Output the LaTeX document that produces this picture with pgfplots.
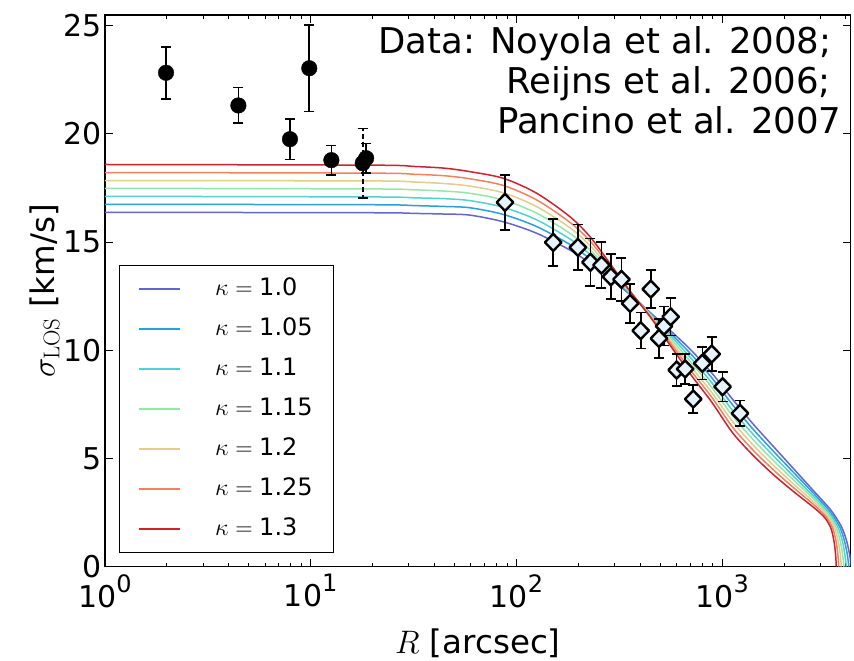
\RequirePackage{fix-cm}
\documentclass[border=0pt]{standalone}
\usepackage[no-math]{fontspec}
\setmainfont{DejaVu Sans}
\usepackage{pgfplots}
\usepackage{pgfplotstable}
\pgfplotsset{compat=1.18}
\definecolor{c0}{RGB}{100,100,210}
\definecolor{c1}{RGB}{40,160,220}
\definecolor{c2}{RGB}{80,210,210}
\definecolor{c3}{RGB}{150,230,170}
\definecolor{c4}{RGB}{225,205,140}
\definecolor{c5}{RGB}{240,130,95}
\definecolor{c6}{RGB}{205,35,45}
\definecolor{dfill}{RGB}{232,242,250}
\newcommand\tp[1]{10\raisebox{15pt}{\fontsize{24}{24}\selectfont #1}}
\pgfplotstableread{
x y e
1.98 22.83 1.20
4.45 21.32 0.82
7.93 19.76 0.93
9.84 23.04 2.00
12.6 18.79 0.68
18.6 18.88 0.68
}\noyoladata
\pgfplotstableread{
x y e
17.9 18.65 1.60
}\noyoladash
\pgfplotstableread{
x y e
88 16.84 1.27
151 14.99 1.09
199 14.76 1.06
229 14.07 1.10
259 13.94 1.06
288 13.40 1.04
324 13.28 1.00
357 12.17 0.91
402 10.91 0.83
450 12.83 0.87
493 10.55 0.90
522 11.12 0.90
562 11.55 0.87
601 9.09 0.73
661 9.14 0.70
724 7.75 0.65
801 9.40 0.75
890 9.83 0.79
1005 8.32 0.68
1222 7.09 0.59
}\outerdata
\begin{document}
\begin{tikzpicture}
\begin{axis}[
  scale only axis, width=745.7pt, height=551.7pt,
  xmode=log, xmin=1, xmax=4217, ymin=0, ymax=25.5,
  xtick={1,10,100,1000}, xticklabels={\tp{0},\tp{1},\tp{2},\tp{3}},
  minor xtick={2,3,4,5,6,7,8,9,20,30,40,50,60,70,80,90,200,300,400,500,600,700,800,900,2000,3000,4000},
  ytick={0,5,10,15,20,25},
  /pgf/number format/assume math mode=true,
  ticklabel style={font=\fontsize{30}{36}\selectfont},
  xticklabel style={yshift=-4pt},
  tick align=inside,
  major tick length=8pt, minor tick length=4pt,
  tick style={black, line width=1pt},
  axis line style={line width=1.2pt},
  xlabel={$R$ [arcsec]}, ylabel={$\sigma_{\mathrm{LOS}}$ [km/s]},
  label style={font=\fontsize{32.5}{38}\selectfont},
  xlabel style={yshift=-14.5pt},
  ylabel style={yshift=-3pt},
  legend cell align=left,
  legend style={at={(0,0)}, anchor=south west, xshift=14pt, yshift=13.7pt, draw=black, line width=1.2pt,
    font=\fontsize{24}{28}\selectfont, inner xsep=19pt, inner ysep=12.5pt, row sep=18pt,
    nodes={inner sep=0pt, text height=18pt, text depth=4pt, text width=99pt, align=left}},
  legend image code/.code={\draw[#1, line width=1.5pt] (0pt,0pt) -- (41pt,0pt); \path (75pt,0pt);},
]
\addplot[draw=c0, line width=1.5pt, smooth] coordinates {(1,16.38) (19.95,16.36) (31.62,16.33) (44.67,16.30) (59.43,16.25) (86.50,15.94) (125.6,15.41) (182.4,14.63) (228.0,14.02) (281.8,13.35) (354.8,12.60) (446.7,11.75) (562.3,10.90) (707.9,10.00) (891.3,8.95) (1122,7.75) (1413,6.60) (1778,5.55) (2239,4.50) (2818,3.45) (3388,2.60) (3802,1.85) (4027,1.20) (4169,0.55) (4246,0)};
\addlegendentry{$\kappa={}$1.0}
\addplot[draw=c1, line width=1.5pt, smooth] coordinates {(1,16.75) (19.95,16.73) (31.62,16.69) (44.67,16.65) (59.43,16.59) (86.50,16.28) (125.6,15.72) (182.4,14.89) (228.0,14.23) (281.8,13.47) (354.8,12.63) (446.7,11.72) (562.3,10.78) (707.9,9.81) (891.3,8.73) (1122,7.49) (1413,6.36) (1778,5.33) (2239,4.33) (2818,3.33) (3350,2.54) (3733,1.83) (3936,1.18) (4064,0.54) (4130,0)};
\addlegendentry{$\kappa={}$1.05}
\addplot[draw=c2, line width=1.5pt, smooth] coordinates {(1,17.12) (19.95,17.09) (31.62,17.05) (44.67,17.01) (59.43,16.92) (86.50,16.61) (125.6,16.03) (182.4,15.14) (228.0,14.43) (281.8,13.59) (354.8,12.66) (446.7,11.68) (562.3,10.67) (707.9,9.62) (891.3,8.50) (1122,7.23) (1413,6.12) (1778,5.12) (2239,4.15) (2818,3.20) (3311,2.48) (3656,1.82) (3846,1.17) (3954,0.53) (4018,0)};
\addlegendentry{$\kappa={}$1.1}
\addplot[draw=c3, line width=1.5pt, smooth] coordinates {(1,17.49) (19.95,17.46) (31.62,17.42) (44.67,17.36) (59.43,17.26) (86.50,16.95) (125.6,16.34) (182.4,15.40) (228.0,14.64) (281.8,13.72) (354.8,12.69) (446.7,11.65) (562.3,10.55) (707.9,9.43) (891.3,8.28) (1122,6.98) (1413,5.88) (1778,4.90) (2239,3.98) (2818,3.08) (3273,2.43) (3589,1.80) (3758,1.15) (3855,0.53) (3908,0)};
\addlegendentry{$\kappa={}$1.15}
\addplot[draw=c4, line width=1.5pt, smooth] coordinates {(1,17.85) (19.95,17.83) (31.62,17.78) (44.67,17.71) (59.43,17.59) (86.50,17.28) (125.6,16.64) (182.4,15.66) (228.0,14.84) (281.8,13.84) (354.8,12.71) (446.7,11.62) (562.3,10.43) (707.9,9.23) (891.3,8.05) (1122,6.72) (1413,5.63) (1778,4.68) (2239,3.80) (2818,2.95) (3236,2.37) (3524,1.78) (3673,1.13) (3758,0.52) (3793,0)};
\addlegendentry{$\kappa={}$1.2}
\addplot[draw=c5, line width=1.5pt, smooth] coordinates {(1,18.22) (19.95,18.19) (31.62,18.14) (44.67,18.07) (59.43,17.93) (86.50,17.62) (125.6,16.95) (182.4,15.91) (228.0,15.05) (281.8,13.96) (354.8,12.74) (446.7,11.58) (562.3,10.32) (707.9,9.04) (891.3,7.83) (1122,6.46) (1413,5.39) (1778,4.47) (2239,3.63) (2818,2.83) (3199,2.31) (3451,1.77) (3589,1.12) (3656,0.51) (3690,0)};
\addlegendentry{$\kappa={}$1.25}
\addplot[draw=c6, line width=1.5pt, smooth] coordinates {(1,18.59) (19.95,18.56) (31.62,18.50) (44.67,18.42) (59.43,18.26) (86.50,17.95) (125.6,17.26) (182.4,16.17) (228.0,15.25) (281.8,14.08) (354.8,12.77) (446.7,11.55) (562.3,10.20) (707.9,8.85) (891.3,7.60) (1122,6.20) (1413,5.15) (1778,4.25) (2239,3.45) (2818,2.70) (3162,2.25) (3388,1.75) (3508,1.10) (3565,0.50) (3589,0)};
\addlegendentry{$\kappa={}$1.3}
% error bars
\addplot[only marks, mark=none, forget plot, error bars/.cd, y dir=both, y explicit,
  error bar style={line width=1.6pt, black, dash pattern=on 5pt off 3pt},
  error mark options={rotate=90, mark size=5pt, line width=1.6pt, black, solid}]
  table[x=x, y=y, y error=e] {\noyoladash};
\addplot[only marks, mark=none, forget plot, error bars/.cd, y dir=both, y explicit,
  error bar style={line width=1.6pt, black},
  error mark options={rotate=90, mark size=5pt, line width=1.6pt, black}]
  table[x=x, y=y, y error=e] {\noyoladata};
\addplot[only marks, mark=none, forget plot, error bars/.cd, y dir=both, y explicit,
  error bar style={line width=1.6pt, black},
  error mark options={rotate=90, mark size=5pt, line width=1.6pt, black}]
  table[x=x, y=y, y error=e] {\outerdata};
% markers
\addplot[only marks, mark=*, mark size=7.8pt, black, forget plot] table[x=x, y=y] {\noyoladash};
\addplot[only marks, mark=*, mark size=7.8pt, black, forget plot] table[x=x, y=y] {\noyoladata};
\addplot[only marks, mark=diamond*, mark size=8.5pt, forget plot,
  mark options={fill=dfill, draw=black, line width=2.4pt, line join=round, xscale=1.3}] table[x=x, y=y] {\outerdata};
\end{axis}
\begin{scope}[font=\fontsize{35.5}{40}\selectfont]
\node[anchor=base east, inner sep=0pt] at ([shift={(726.7pt,-38.3pt)}]current axis.north west) {Data: Noyola et al. 2008;};
\node[anchor=base east, inner sep=0pt] at ([shift={(726pt,-78.3pt)}]current axis.north west) {Reijns et al. 2006;};
\node[anchor=base east, inner sep=0pt] at ([shift={(736.7pt,-118.3pt)}]current axis.north west) {Pancino et al. 2007};
\end{scope}
\pgfresetboundingbox
\path ([shift={(-105pt,-94.3pt)}]current axis.south west) rectangle ([shift={(3.3pt,15pt)}]current axis.north east);
\end{tikzpicture}
\end{document}
